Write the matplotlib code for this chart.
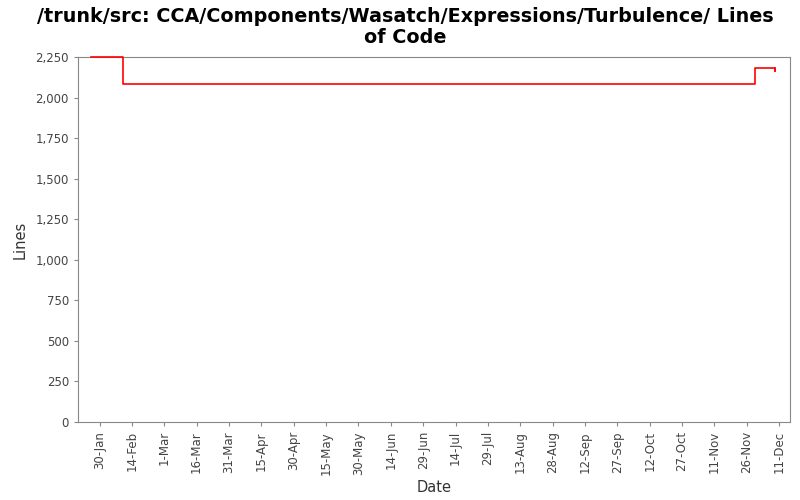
import matplotlib
matplotlib.use("Agg")
import matplotlib.pyplot as plt
import matplotlib.ticker as mticker
import datetime as dt

dates = ["2010-01-26", "2010-02-10", "2010-11-30", "2010-12-09"]
lines = [2249, 2081, 2181, 2162]
tick_dates = ["2010-01-30", "2010-02-14", "2010-03-01", "2010-03-16", "2010-03-31",
              "2010-04-15", "2010-04-30", "2010-05-15", "2010-05-30", "2010-06-14",
              "2010-06-29", "2010-07-14", "2010-07-29", "2010-08-13", "2010-08-28",
              "2010-09-12", "2010-09-27", "2010-10-12", "2010-10-27", "2010-11-11",
              "2010-11-26", "2010-12-11"]
y_ticks = [0, 250, 500, 750, 1000, 1250, 1500, 1750, 2000, 2250]

d = [dt.datetime.strptime(s, "%Y-%m-%d") for s in dates]
td = [dt.datetime.strptime(s, "%Y-%m-%d") for s in tick_dates]

fig = plt.figure(figsize=(8, 5), dpi=100)
ax = fig.add_axes([78/800, 1-422/500, (790-78)/800, (422-57)/500])

ax.step(d, lines, where="post", color="#ff0000", lw=1.2, clip_on=False, zorder=5)
ax.plot([d[-1], d[-1]], [lines[-2], lines[-1]], color="#ff0000", lw=1.2, zorder=5)

ax.set_xlim(dt.datetime(2010, 1, 20), dt.datetime(2010, 12, 16))
ax.set_ylim(0, 2250)
ax.set_yticks(y_ticks)
ax.yaxis.set_major_formatter(mticker.FuncFormatter(lambda v, p: f"{int(v):,}"))
ax.set_xticks(td)
ax.set_xticklabels([f"{t.day}-{t.strftime('%b')}" for t in td], rotation=90)

for s in ax.spines.values():
    s.set_color("#888888")
ax.tick_params(axis="both", colors="#888888", labelcolor="#444444", labelsize=8.5, length=3)
ax.set_xlabel("Date", fontsize=10.5, color="#333333")
ax.set_ylabel("Lines", fontsize=10.5, color="#333333", labelpad=6)
fig.suptitle("/trunk/src: CCA/Components/Wasatch/Expressions/Turbulence/ Lines\nof Code",
             fontsize=13.8, fontweight="bold", x=0.507, y=0.985, linespacing=1.1)

fig.savefig("out.png", dpi=100)
